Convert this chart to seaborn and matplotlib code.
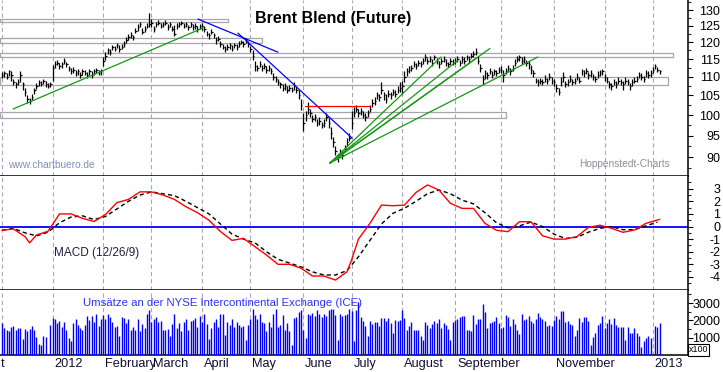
import numpy as np
import pandas as pd
import matplotlib
matplotlib.use("Agg")
import matplotlib.pyplot as plt
import matplotlib.transforms as mtransforms
from matplotlib.ticker import FixedLocator, NullFormatter
import seaborn as sns

sns.set_style("white")
plt.rcParams["font.family"] = ["Liberation Sans", "DejaVu Sans"]
plt.rcParams["lines.scale_dashes"] = False

W, H = 723, 372

# trading days on the chart: Dec 2011 .. first days of Jan 2013
days = pd.bdate_range("2011-12-01", "2013-01-04")

# daily closes (one row per month)
close_px = [
    110.5, 111.0, 110.0, 111.5, 110.5, 108.5, 108.0, 108.5, 110.5, 108.0, 106.0, 104.0, 103.5, 104.5, 106.5, 107.5, 108.5, 108.0, 109.0, 108.0, 107.5, 108.0,
    112.5, 113.5, 114.0, 113.0, 113.5, 114.5, 113.5, 112.5, 111.5, 112.0, 111.0, 111.5, 110.5, 111.5, 111.0, 110.5, 111.5, 110.5, 111.5, 112.0, 111.0, 111.5,
    114.5, 116.0, 117.5, 117.0, 118.5, 118.0, 119.0, 118.0, 118.5, 119.5, 120.5, 121.5, 122.0, 121.5, 123.5, 124.5, 125.5, 123.0, 124.0, 125.0, 125.5,
    126.0, 124.0, 125.5, 126.0, 125.0, 125.5, 126.0, 124.5, 125.5, 124.0, 122.5, 125.0, 125.5, 126.0, 125.0, 125.5, 124.5, 125.5, 124.5, 125.0, 124.0, 125.0,
    125.0, 124.0, 122.5, 122.0, 123.0, 122.0, 120.5, 121.0, 119.5, 118.5, 118.0, 118.5, 119.0, 118.0, 119.0, 118.5, 119.5, 120.0, 119.5, 120.5, 119.5,
    118.0, 116.0, 113.0, 112.5, 113.5, 112.5, 113.0, 112.0, 112.5, 111.5, 110.0, 109.5, 108.5, 108.0, 107.0, 107.5, 106.5, 107.0, 106.5, 107.5, 106.5, 105.0, 102.5,
    98.0, 100.0, 101.5, 100.5, 99.0, 99.5, 98.0, 98.5, 97.5, 98.0, 99.5, 98.0, 95.5, 93.5, 91.5, 90.0, 91.0, 90.5, 92.0, 93.5, 94.5,
    98.0, 100.5, 101.5, 100.5, 101.0, 100.0, 99.5, 100.5, 101.5, 103.0, 103.5, 105.0, 104.5, 106.5, 105.0, 104.0, 105.5, 105.0, 106.0, 105.5, 106.5, 107.0,
    107.5, 110.0, 111.5, 112.0, 112.5, 113.5, 113.0, 114.0, 113.5, 114.5, 115.5, 114.5, 115.0, 114.0, 115.5, 114.5, 113.5, 114.5, 115.0, 114.0, 113.5, 114.5, 114.0,
    114.5, 115.0, 114.0, 115.0, 114.5, 115.5, 115.0, 116.0, 116.5, 117.0, 114.5, 112.5, 109.5, 111.0, 110.5, 111.5, 110.5, 111.5, 111.0, 112.0,
    112.0, 110.5, 111.5, 112.5, 111.5, 112.5, 114.0, 115.0, 115.5, 114.5, 115.0, 114.0, 113.5, 112.0, 111.0, 109.0, 108.5, 109.0, 108.5, 109.5, 109.0, 110.0, 109.0,
    108.5, 107.0, 106.0, 108.5, 110.0, 108.0, 108.5, 109.5, 108.5, 109.0, 110.0, 109.0, 111.5, 111.0, 111.5, 110.5, 111.0, 110.0, 109.5, 110.5, 111.0, 111.5,
    110.0, 109.0, 108.0, 107.5, 108.5, 108.0, 109.0, 108.5, 108.0, 109.0, 108.5, 107.5, 108.5, 109.0, 109.5, 110.5, 110.0, 109.5, 111.0, 110.5, 111.0,
    112.0, 113.0, 112.0, 111.5,
]
# distance from close up to the daily high / down to the daily low
bar_up = [
    0.8, 0.6, 1.2, 0.5, 1.0, 1.0, 0.7, 0.8, 1.0, 0.6, 1.0, 1.2, 0.8, 1.0, 0.5, 0.8, 0.6, 1.0, 0.4, 0.8, 0.9, 0.7,
    0.8, 1.0, 0.8, 0.9, 0.6, 0.7, 0.8, 0.6, 0.9, 0.7, 1.0, 0.6, 0.8, 0.7, 0.9, 0.8, 0.6, 1.0, 0.7, 0.6, 0.8, 0.7,
    1.0, 1.2, 0.8, 1.0, 0.7, 0.9, 0.6, 1.0, 0.8, 0.7, 0.9, 0.8, 1.0, 0.7, 0.9, 1.0, 0.8, 1.2, 0.9, 0.8, 3.5,
    1.0, 1.0, 0.8, 0.7, 1.0, 0.6, 0.8, 1.0, 0.7, 0.9, 2.8, 0.8, 0.7, 0.6, 0.9, 0.7, 0.8, 0.6, 0.9, 0.7, 0.8, 0.6,
    1.0, 0.8, 1.0, 0.7, 0.9, 0.8, 1.0, 0.7, 0.9, 0.8, 0.7, 0.9, 0.8, 1.0, 0.7, 0.9, 0.8, 0.7, 0.9, 0.8, 0.9,
    0.9, 1.5, 1.5, 0.8, 0.9, 0.7, 0.8, 1.0, 0.7, 0.9, 1.0, 0.8, 0.9, 0.7, 1.0, 0.8, 0.9, 0.7, 0.8, 1.0, 0.9, 1.5, 1.5,
    2.5, 1.0, 1.8, 0.9, 1.0, 0.8, 1.0, 0.9, 0.8, 1.0, 0.9, 1.2, 1.5, 1.2, 1.0, 0.8, 0.9, 1.0, 0.8, 1.0, 1.2,
    3.0, 1.5, 1.0, 0.9, 0.8, 1.0, 0.9, 0.8, 1.0, 1.2, 1.0, 1.0, 0.8, 2.0, 1.0, 1.5, 0.9, 1.0, 0.8, 1.0, 0.9, 1.5,
    1.5, 1.5, 1.0, 0.9, 0.8, 1.0, 0.9, 0.8, 1.0, 0.9, 1.0, 0.8, 0.9, 1.0, 0.8, 0.9, 1.0, 0.8, 0.9, 1.0, 0.8, 0.9, 1.0,
    0.9, 1.0, 0.8, 0.9, 1.0, 0.8, 0.9, 0.8, 0.9, 1.3, 1.5, 1.2, 1.0, 1.0, 0.8, 0.9, 1.0, 0.8, 0.9, 0.8,
    1.0, 1.5, 0.9, 0.8, 1.0, 0.9, 1.0, 0.8, 0.8, 1.0, 0.9, 0.8, 1.0, 1.2, 1.0, 0.8, 0.9, 0.8, 1.0, 0.9, 0.8, 1.0, 0.9,
    0.9, 1.0, 1.0, 1.5, 1.3, 0.9, 0.8, 1.0, 0.9, 0.8, 1.0, 0.9, 0.8, 1.0, 0.9, 0.8, 1.0, 0.9, 0.8, 1.0, 0.9, 0.8,
    0.9, 1.0, 0.8, 0.9, 1.0, 0.8, 0.9, 1.0, 0.8, 0.9, 1.0, 0.8, 0.9, 1.0, 0.8, 0.9, 1.0, 0.8, 0.9, 1.0, 0.8,
    0.8, 0.6, 0.7, 0.5,
]
bar_dn = [
    0.9, 1.0, 0.6, 1.2, 1.5, 0.8, 0.9, 0.6, 2.0, 1.5, 1.2, 1.0, 0.6, 0.8, 1.2, 0.8, 1.0, 0.6, 0.9, 0.8, 0.6, 0.8,
    3.5, 1.0, 0.8, 0.7, 1.0, 0.9, 0.8, 1.0, 0.6, 0.8, 0.7, 1.0, 0.8, 0.9, 0.6, 0.8, 1.0, 0.7, 0.9, 0.8, 0.6, 0.9,
    1.5, 1.2, 1.0, 0.8, 1.0, 0.7, 0.9, 0.8, 0.7, 1.0, 0.8, 0.9, 0.7, 1.0, 0.8, 1.0, 0.9, 0.7, 1.0, 0.8, 1.0,
    1.5, 0.8, 1.0, 0.9, 0.7, 1.0, 0.8, 0.9, 1.0, 0.7, 0.8, 1.0, 0.8, 0.9, 0.7, 1.0, 0.8, 0.9, 0.7, 1.0, 0.8, 0.9,
    1.2, 0.9, 0.8, 1.0, 0.7, 0.9, 1.0, 0.8, 1.0, 0.7, 0.9, 0.8, 1.0, 0.7, 0.9, 0.8, 1.0, 0.7, 0.9, 0.8, 1.0,
    1.0, 1.2, 1.3, 0.9, 0.7, 1.0, 0.8, 0.9, 1.0, 0.8, 0.9, 1.0, 0.8, 0.9, 0.7, 1.0, 0.8, 0.9, 0.7, 1.0, 0.8, 1.0, 1.2,
    2.0, 1.5, 1.2, 1.0, 0.8, 1.0, 0.7, 0.9, 0.8, 0.9, 1.0, 1.2, 1.3, 1.2, 1.0, 1.0, 0.8, 0.9, 0.8, 1.0, 0.9,
    1.5, 1.0, 0.8, 1.0, 0.9, 0.8, 0.9, 1.0, 0.8, 1.0, 0.9, 1.0, 0.9, 1.0, 1.2, 0.9, 1.0, 0.8, 0.9, 1.0, 0.8, 1.0,
    2.0, 1.5, 1.2, 0.9, 1.0, 0.8, 0.9, 1.0, 0.8, 0.9, 1.0, 0.8, 0.9, 1.0, 0.8, 0.9, 1.0, 0.8, 0.9, 1.0, 0.8, 0.9, 0.8,
    1.0, 0.8, 0.9, 1.0, 0.8, 0.9, 1.0, 0.8, 0.9, 0.8, 1.0, 1.2, 1.5, 1.5, 1.0, 0.8, 0.9, 1.0, 0.8, 0.9,
    1.0, 2.0, 0.8, 1.0, 0.9, 0.8, 1.0, 0.9, 1.0, 0.8, 1.0, 0.9, 1.2, 1.3, 1.0, 0.8, 0.9, 1.0, 0.8, 0.9, 1.0, 0.8, 0.9,
    1.0, 1.2, 1.0, 1.0, 1.3, 0.8, 1.0, 0.9, 0.8, 1.0, 0.9, 0.8, 1.0, 0.9, 0.8, 1.0, 0.9, 0.8, 1.0, 0.9, 0.8, 1.0,
    1.0, 0.8, 0.9, 1.0, 0.8, 0.9, 1.0, 0.8, 1.5, 0.9, 0.8, 1.0, 0.9, 0.8, 1.0, 0.9, 0.8, 1.0, 0.9, 0.8, 1.0,
    0.8, 0.9, 0.7, 0.8,
]

# volume (x100)
volume = [
    1870, 1550, 1420, 1360, 1600, 1680, 1450, 1590, 1550, 950, 1510, 1400, 1490, 1680, 1450, 1040, 660, 550, 1115, 1040,
    0, 1740, 2120, 2060, 1870, 1970, 1640, 1890, 1450, 980, 790, 1830, 2080, 1740, 1550, 1450, 1740, 2250, 2020, 2250,
    1890, 2360, 1680, 2060, 2300, 2060, 2400, 2170, 1930, 1640, 1700, 1080, 2170, 2120, 1830, 2060, 1450, 1640, 1450, 2060,
    1360, 1800, 1550, 2360, 2590, 1930, 2060, 2210, 1930, 1970, 1420, 1450, 1490, 1115, 1780, 2400, 1550, 1830, 1360, 1930,
    2060, 1450, 1970, 2020, 2120, 1640, 2250, 1930, 2360, 1800, 950, 1550, 1930, 2060, 1640, 2400, 2360, 1170, 1930, 1740,
    2060, 1640, 1930, 1740, 1640, 1680, 890, 1740, 2060, 2680, 2300, 2100, 2400, 1930, 1830, 1360, 1930, 1640, 2360, 2680,
    1640, 1740, 2300, 1450, 1830, 1360, 550, 2120, 2170, 2490, 2630, 1450, 980, 2360, 2300, 2440, 2250, 2590, 2400, 2210,
    2400, 2250, 2630, 2680, 2680, 2300, 890, 2360, 2250, 2300, 2400, 2680, 2550, 790, 2630, 3060,
    2170, 1990, 1680, 1115, 1990, 1800, 1890, 1890, 1680, 2120, 2120, 1990, 2120, 1830, 1300, 2020, 1970, 2020, 2590, 2120,
    1450, 1680, 1890, 1420, 1420, 1450, 1080, 850, 1930, 1740, 1550, 1780, 1970, 1870, 2060, 1550, 1870, 1740, 1510, 890,
    1900, 2020, 2060, 2210, 2250, 2250, 1450, 1450, 1360, 2300, 1800, 2060, 2060, 2930, 2460, 1550, 1870, 1930, 1970, 2170,
    1870, 1550, 1640, 2300, 2170, 1680, 2060, 1800, 1450, 1230, 2360, 2020, 2060, 2250, 1990, 1830, 2060, 2440, 2210, 2060,
    1990, 1680, 1740, 1680, 2020, 2250, 2060, 2550, 2550, 1930, 1990, 1800, 1740, 1080, 1450, 2120, 1930, 2170, 2210, 1990,
    550, 1040, 1300, 1740, 1830, 2250, 1550, 1830, 2060, 1800, 2120, 1740, 1640, 1640, 1640, 850, 1640, 1300, 1300, 1550,
    1300, 1115, 470, 790, 980, 1115, 980, 0, 1680, 1640, 1870,
]

# MACD (12/26/9) and its signal line, read at trading-day positions
macd_day = [0, 5, 10, 12, 15, 20, 25, 30, 35, 40, 45, 50, 55, 60, 65, 70, 75, 80, 85, 90,
            95, 100, 105, 110, 115, 120, 125, 130, 135, 140, 145, 150, 152, 155, 160, 165, 170, 175, 180, 185,
            190, 195, 200, 205, 210, 215, 220, 225, 230, 235, 240, 245, 250, 255, 260, 265, 270, 275, 280, 286]
macd_val = [-0.3, -0.2, -0.8, -1.3, -0.67, -0.38, 1.0, 1.0, 0.65, 0.4, 0.95, 1.9, 2.15, 2.75, 2.75, 2.5, 2.15, 1.57, 1.1, 0.5,
            -0.4, -1.1, -0.94, -1.6, -2.26, -3.0, -3.0, -3.3, -3.93, -3.93, -4.25, -3.6, -2.66, -1.0, 0.25, 1.7, 1.65, 1.7, 2.7, 3.3,
            2.9, 1.84, 1.44, 1.44, 0.25, -0.3, -0.41, 0.38, 0.38, -0.73, -1.0, -1.0, -0.8, -0.07, 0.1, -0.14, -0.46, -0.28, 0.25, 0.57]
signal_day = list(range(0, 286, 5))
signal_val = [-0.3, -0.15, -0.5, -0.75, -0.45, 0.3, 0.75, 0.85, 0.55, 0.8, 1.4, 2.0, 2.5, 2.75, 2.6,
              2.45, 2.0, 1.5, 1.0, 0.2, -0.6, -1.0, -1.3, -2.0, -2.6, -2.9, -3.2, -3.6, -3.85, -3.85,
              -3.5, -2.4, -1.1, 0.2, 1.05, 1.45, 2.0, 2.6, 2.9, 2.6, 2.1, 1.8, 1.1, 0.3, -0.1,
              0.05, 0.35, 0.0, -0.6, -0.95, -0.85, -0.45, -0.15, 0.0, -0.25, -0.25, 0.05, 0.35]

# drawn-in analysis: (start day, end day, start price, end price)
green_lines = [(4.8, 87.4, 101.5, 124.3),
               (142.6, 190.9, 88.7, 115.6), (142.6, 198.3, 88.7, 114.7), (142.6, 206.5, 88.7, 115.4),
               (142.6, 212.2, 88.7, 118.1), (142.6, 233.0, 88.7, 115.6)]
blue_lines = [(85.2, 120.0, 127.1, 117.0), (102.6, 152.2, 122.7, 94.4)]
red_lines = [(131.7, 160.0, 102.4, 102.4)]
# horizontal zones: (end day, upper price, lower price)
zones = [(98.3, 127.1, 126.1), (113.0, 121.1, 119.7), (291.7, 116.8, 115.7),
         (289.6, 109.9, 107.8), (219.1, 100.7, 99.2)]

month_labels = ["", "2012", "February", "March", "April", "May", "June", "July",
                "August", "September", "", "November", "", "2013"]

# ---------------------------------------------------------------- layout
fig = plt.figure(figsize=(W / 100, H / 100), dpi=100)
fig.patch.set_facecolor("white")


def px_axes(top, bottom):
    return fig.add_axes([0, (H - bottom) / H, 688 / W, (bottom - top) / H])


ax_p = px_axes(0, 176)
ax_m = px_axes(176, 290)
ax_v = px_axes(290, 355)

n = len(close_px)
idx = np.arange(n)
xlim = (-0.87, 298.3)
month_start = [i for i in range(len(days)) if i == 0 or days[i].month != days[i - 1].month]
mondays = [i for i in range(len(days)) if days[i].weekday() == 0]
mondays += [290, 295]

grid_kw = dict(color="#b0a4b4", lw=0.8, ls=(0, (3, 2.2)), zorder=0)
tick_fs = 9
lbl_pad = (720 - 688 - 5) * 0.72

for ax in (ax_p, ax_m, ax_v):
    ax.set_xlim(*xlim)
    ax.set_facecolor("white")
    for sp in ("top", "left"):
        ax.spines[sp].set_visible(False)
    for sp in ("right", "bottom"):
        ax.spines[sp].set_color("black")
        ax.spines[sp].set_linewidth(1.1)
    for m in month_start:
        ax.axvline(m, **grid_kw)
    ax.yaxis.tick_right()
    ax.tick_params(axis="y", which="major", direction="out", length=3.6, width=0.8,
                   labelsize=tick_fs, pad=lbl_pad, colors="black")
    ax.tick_params(axis="y", which="minor", direction="out", length=2, width=0.8)

# ---------------------------------------------------------------- price panel
highs = np.array(close_px) + np.array(bar_up)
lows = np.array(close_px) - np.array(bar_dn)
ax_p.set_yscale("log")
ax_p.vlines(idx, lows, highs, color="black", lw=0.9, zorder=3)
ax_p.hlines(close_px, idx, idx + 0.6, color="black", lw=0.9, zorder=3)

for end, hi, lo in zones:
    ax_p.add_patch(plt.Rectangle((xlim[0], lo), end - xlim[0], hi - lo, fill=False,
                                 edgecolor="#aaa2ac", lw=0.9, zorder=1))
for lines, col in ((green_lines, "#109a10"), (blue_lines, "#0000ff"), (red_lines, "#ff0000")):
    for x0, x1, y0, y1 in lines:
        ax_p.plot([x0, x1], [y0, y1], color=col, lw=0.9, zorder=4)

ax_p.set_ylim(85.86, 133.3)
price_ticks = [90, 95, 100, 105, 110, 115, 120, 125, 130]
ax_p.yaxis.set_major_locator(FixedLocator(price_ticks))
ax_p.yaxis.set_minor_locator(FixedLocator([p + 2.5 for p in range(85, 135, 5)]))
ax_p.yaxis.set_minor_formatter(NullFormatter())
ax_p.set_yticklabels([str(p) for p in price_ticks])
ax_p.tick_params(axis="x", bottom=False, labelbottom=False)

# ---------------------------------------------------------------- MACD panel
ax_m.axhline(0, color="#0000ff", lw=1.3, zorder=1)
sns.lineplot(x=macd_day, y=macd_val, ax=ax_m, color="#ff0000", lw=1.0, zorder=3)
sns.lineplot(x=signal_day, y=signal_val, ax=ax_m, color="black", lw=1.0, zorder=2)
ax_m.lines[-1].set_dashes([3, 2.2])
ax_m.set_xlim(*xlim)
ax_m.set_ylim(-5.04, 4.01)
ax_m.yaxis.set_major_locator(FixedLocator(range(-4, 4)))
ax_m.yaxis.set_minor_locator(FixedLocator([v + 0.5 for v in range(-5, 4)]))
ax_m.yaxis.set_minor_formatter(NullFormatter())
ax_m.set_yticklabels([str(v) for v in range(-4, 4)])
ax_m.tick_params(axis="x", bottom=False, labelbottom=False)
ax_m.set_xlabel("")
ax_m.set_ylabel("")

# ---------------------------------------------------------------- volume panel
ax_v.vlines(np.arange(len(volume)), 0, volume, color="#0000ff", lw=1.0, zorder=3)
ax_v.set_ylim(0, 3760)
ax_v.yaxis.set_major_locator(FixedLocator([1000, 2000, 3000]))
ax_v.yaxis.set_minor_locator(FixedLocator([500, 1500, 2500, 3500]))
ax_v.yaxis.set_minor_formatter(NullFormatter())
ax_v.set_yticklabels(["1000", "2000", "3000"])
ax_v.xaxis.set_major_locator(FixedLocator(month_start))
ax_v.xaxis.set_minor_locator(FixedLocator(mondays))
ax_v.xaxis.set_major_formatter(NullFormatter())
ax_v.tick_params(axis="x", which="major", direction="out", length=12, width=0.9, colors="black")
ax_v.tick_params(axis="x", which="minor", direction="out", length=3.6, width=0.8, colors="black")

for ax in (ax_p, ax_m, ax_v):
    for t in ax.get_yticklabels():
        t.set_ha("right")

# month names, left aligned just right of each month tick
lbl_tr = mtransforms.blended_transform_factory(ax_v.transData, ax_v.transAxes)
lbl_tr = lbl_tr + mtransforms.ScaledTranslation(2 / 100, 0, fig.dpi_scale_trans)
for m, name in zip(month_start, month_labels):
    if name:
        ax_v.text(m, -9 / 65, name, transform=lbl_tr, ha="left", va="center",
                  fontsize=9.2, color="#101030")
fig.text(0.5 / W, 1 - 364 / H, "t", ha="left", va="center", fontsize=9.2, color="#101030")

fig.text(698.5 / W, 1 - 350 / H, "x100", ha="center", va="center", fontsize=6.4, color="black",
         bbox=dict(boxstyle="square,pad=0.12", fc="white", ec="black", lw=0.8))

# ---------------------------------------------------------------- texts
fig.text(333 / W, 1 - 19 / H, "Brent Blend (Future)", ha="center", va="center",
         fontsize=11.5, fontweight="bold", color="black")
fig.text(8 / W, 1 - 165 / H, "www.chartbuero.de", ha="left", va="center",
         fontsize=7.3, color="#8090b8")
fig.text(670 / W, 1 - 164 / H, "Hoppenstedt-Charts", ha="right", va="center",
         fontsize=7.3, color="#958c9c")
fig.text(54 / W, 1 - 253 / H, "MACD (12/26/9)", ha="left", va="center",
         fontsize=8.5, color="#202040")
fig.text(83 / W, 1 - 303 / H, "Umsätze an der NYSE Intercontinental Exchange (ICE)",
         ha="left", va="center", fontsize=8.2, color="#3030ff")

fig.savefig("out.png", dpi=100, facecolor="white")
